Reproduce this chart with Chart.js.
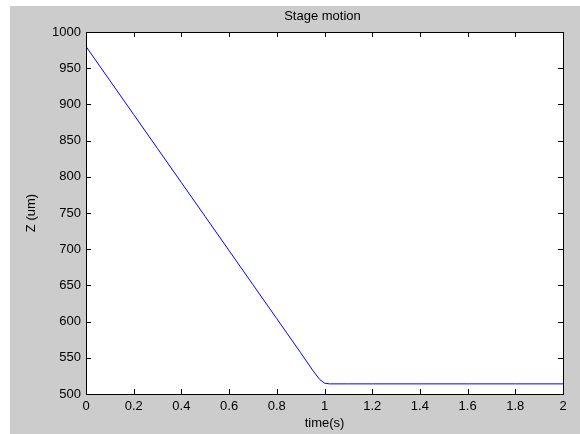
<!DOCTYPE html>
<html>
<head>
<meta charset="utf-8">
<title>Stage motion</title>
<script src="https://cdn.jsdelivr.net/npm/chart.js@4"></script>
<style>
  body { margin: 0; background: #ffffff; }
  canvas { display: block; }
</style>
</head>
<body>
<canvas id="chart" width="580" height="434"></canvas>
<script>
// ==============================
// DATA
// ==============================
const timeValues = [0, 0.1, 0.2, 0.3, 0.4, 0.5, 0.6, 0.7, 0.8, 0.9, 0.95, 0.98, 1.0, 1.02, 1.1, 1.2, 1.4, 1.6, 1.8, 2.0];
const zValues    = [980, 933, 886, 839, 792, 745, 698, 651, 604, 557, 533, 520, 515, 514, 514, 514, 514, 514, 514, 514];

const xTicks = [0, 0.2, 0.4, 0.6, 0.8, 1, 1.2, 1.4, 1.6, 1.8, 2];
const yTicks = [500, 550, 600, 650, 700, 750, 800, 850, 900, 950, 1000];

const chartTitle = "Stage motion";
const xLabel = "time(s)";
const yLabel = "Z (um)";

const FONT = "'Liberation Sans', Arial, sans-serif";

// ==============================
// MATLAB-LIKE FIGURE FRAME
// ==============================
const figurePlugin = {
  id: "figure",
  beforeDraw(chart) {
    const { ctx, chartArea: a } = chart;
    ctx.save();
    ctx.fillStyle = "#ffffff";
    ctx.fillRect(0, 0, chart.width, chart.height);
    ctx.fillStyle = "#cccccc";
    ctx.fillRect(10, 6, chart.width - 10, chart.height - 6);
    ctx.fillStyle = "#ffffff";
    ctx.fillRect(a.left, a.top, a.right - a.left, a.bottom - a.top);
    ctx.restore();
  },
  afterDraw(chart) {
    const { ctx, chartArea: a } = chart;
    const xs = chart.scales.x, ys = chart.scales.y;
    const len = 5;
    ctx.save();
    ctx.strokeStyle = "#000000";
    ctx.lineWidth = 1;
    ctx.beginPath();
    xTicks.forEach(v => {
      const px = Math.round(xs.getPixelForValue(v)) + 0.5;
      ctx.moveTo(px, a.bottom); ctx.lineTo(px, a.bottom - len);
      ctx.moveTo(px, a.top); ctx.lineTo(px, a.top + len);
    });
    yTicks.forEach(v => {
      const py = Math.round(ys.getPixelForValue(v)) + 0.5;
      ctx.moveTo(a.left, py); ctx.lineTo(a.left + len, py);
      ctx.moveTo(a.right, py); ctx.lineTo(a.right - len, py);
    });
    ctx.stroke();
    ctx.strokeRect(Math.round(a.left) + 0.5, Math.round(a.top) + 0.5,
                   Math.round(a.right - a.left), Math.round(a.bottom - a.top));

    ctx.fillStyle = "#000000";
    ctx.font = "13px " + FONT;
    ctx.textAlign = "center";
    ctx.textBaseline = "middle";
    ctx.fillText(chartTitle, (a.left + a.right) / 2 - 2, 16);
    ctx.restore();
  }
};

// ==============================
// RENDER CHART
// ==============================
new Chart(document.getElementById("chart"), {
  type: "line",
  data: {
    datasets: [{
      data: timeValues.map((t, i) => ({ x: t, y: zValues[i] })),
      borderColor: "#0000ff",
      borderWidth: 1,
      pointRadius: 0,
      tension: 0,
      fill: false
    }]
  },
  options: {
    responsive: false,
    animation: false,
    layout: { padding: { left: 0, right: 17, top: 32, bottom: 0 } },
    plugins: { legend: { display: false }, tooltip: { enabled: false } },
    scales: {
      x: {
        type: "linear",
        min: 0,
        max: 2,
        afterFit(s) { s.height = 40; },
        afterBuildTicks(s) { s.ticks = xTicks.map(v => ({ value: v })); },
        grid: { display: false, drawTicks: false },
        border: { display: false },
        ticks: {
          padding: 5,
          color: "#000000",
          maxRotation: 0,
          autoSkip: false,
          font: { family: FONT, size: 13 },
          callback: v => String(Math.round(v * 10) / 10)
        },
        title: {
          display: true,
          text: xLabel,
          color: "#000000",
          font: { family: FONT, size: 13, lineHeight: 1 },
          padding: { top: 0, bottom: 4 }
        }
      },
      y: {
        min: 500,
        max: 1000,
        afterFit(s) { s.width = 86; },
        afterBuildTicks(s) { s.ticks = yTicks.map(v => ({ value: v })); },
        grid: { display: false, drawTicks: false },
        border: { display: false },
        ticks: {
          padding: 5,
          color: "#000000",
          autoSkip: false,
          font: { family: FONT, size: 13 },
          callback: v => String(v)
        },
        title: {
          display: true,
          text: yLabel,
          color: "#000000",
          font: { family: FONT, size: 13, lineHeight: 1 },
          padding: { top: 25, bottom: 0 }
        }
      }
    }
  },
  plugins: [figurePlugin]
});
</script>
</body>
</html>
